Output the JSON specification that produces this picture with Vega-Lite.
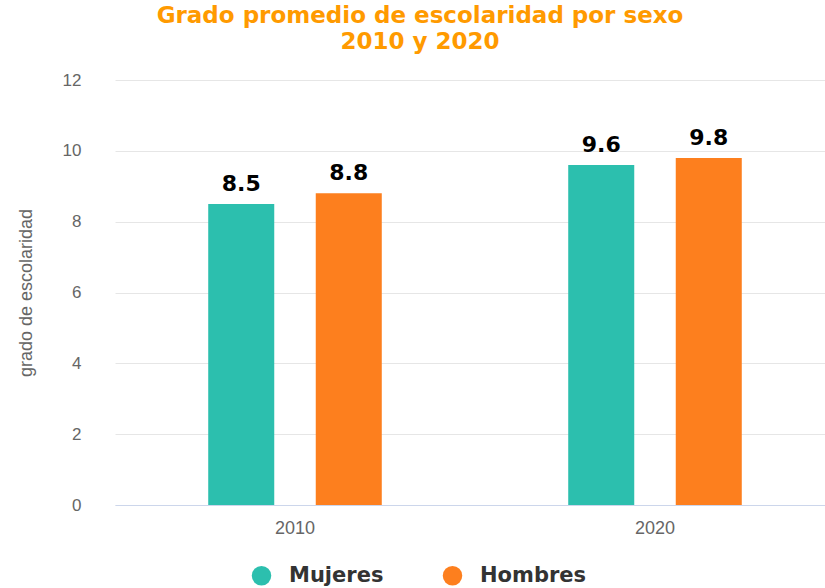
{
  "$schema": "https://vega.github.io/schema/vega-lite/v6.json",
  "autosize": "none",
  "width": 710,
  "height": 425,
  "padding": {"left": 115, "top": 80, "right": 0, "bottom": 83},
  "background": "white",
  "title": {
    "text": ["Grado promedio de escolaridad por sexo", "2010 y 2020"],
    "font": "DejaVu Sans",
    "fontSize": 23,
    "fontWeight": "bold",
    "color": "#FF9A00",
    "anchor": "middle",
    "frame": "group",
    "dx": -50,
    "offset": 17,
    "lineHeight": 26
  },
  "data": {
    "values": [
      {"year": "2010", "sexo": "Mujeres", "valor": 8.5},
      {"year": "2010", "sexo": "Hombres", "valor": 8.8},
      {"year": "2020", "sexo": "Mujeres", "valor": 9.6},
      {"year": "2020", "sexo": "Hombres", "valor": 9.8}
    ]
  },
  "encoding": {
    "x": {
      "field": "year", "type": "nominal",
      "scale": {"paddingInner": 0, "paddingOuter": 0, "range": [0, 720]},
      "axis": {
        "title": null, "labelAngle": 0, "labelFont": "Liberation Sans", "labelFontSize": 18,
        "labelColor": "#666666", "labelPadding": 14, "ticks": false,
        "domainColor": "#ccd6eb", "domainWidth": 1
      }
    },
    "xOffset": {
      "field": "sexo", "type": "nominal", "sort": ["Mujeres", "Hombres"],
      "scale": {"paddingInner": 0.386, "paddingOuter": 0.867}
    },
    "y": {
      "field": "valor", "type": "quantitative",
      "scale": {"domain": [0, 12], "nice": false},
      "axis": {
        "title": "grado de escolaridad", "titleFont": "Liberation Sans", "titleFontSize": 18,
        "titleFontWeight": "normal", "titleColor": "#666666", "titlePadding": 27,
        "values": [0, 2, 4, 6, 8, 10, 12],
        "labelFont": "Liberation Sans", "labelFontSize": 17, "labelColor": "#666666",
        "labelPadding": 34, "ticks": false, "domain": false,
        "gridColor": "#e6e6e6", "gridWidth": 1
      }
    }
  },
  "layer": [
    {
      "mark": {"type": "bar"},
      "encoding": {
        "color": {
          "field": "sexo", "type": "nominal", "sort": ["Mujeres", "Hombres"],
          "scale": {"domain": ["Mujeres", "Hombres"], "range": ["#2cbfae", "#fd7f1e"]},
          "legend": {
            "title": null, "orient": "none", "direction": "horizontal",
            "legendX": 136, "legendY": 485,
            "symbolType": "circle", "symbolSize": 380, "symbolStrokeWidth": 0,
            "labelFont": "DejaVu Sans", "labelFontSize": 21, "labelFontWeight": "bold",
            "labelColor": "#333333", "columnPadding": 58, "labelOffset": 17
          }
        }
      }
    },
    {
      "mark": {"type": "text", "baseline": "bottom", "dy": -8, "font": "DejaVu Sans",
               "fontSize": 22, "fontWeight": "bold", "color": "#000000"},
      "encoding": {
        "text": {"field": "valor", "type": "quantitative", "format": ".1f"}
      }
    }
  ],
  "config": {"view": {"stroke": null}}
}
